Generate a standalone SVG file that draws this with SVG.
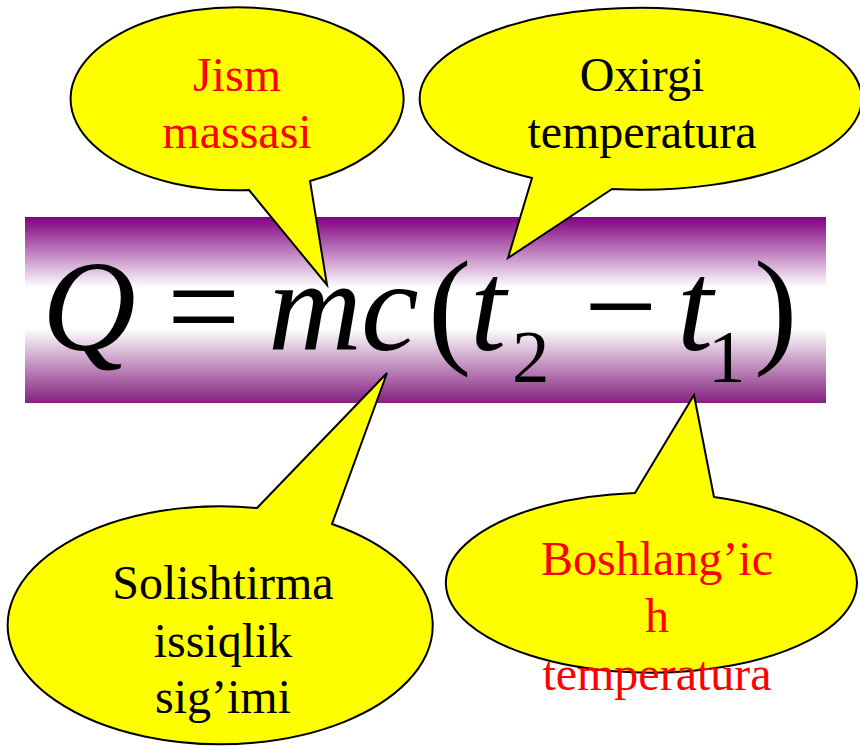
<svg xmlns="http://www.w3.org/2000/svg" width="860" height="746" viewBox="0 0 860 746">
<defs>
<linearGradient id="barGrad" x1="0" y1="0" x2="0" y2="1">
<stop offset="0" stop-color="#800080"/>
<stop offset="0.38" stop-color="#ffffff"/>
<stop offset="0.6" stop-color="#ffffff"/>
<stop offset="1" stop-color="#83207f"/>
</linearGradient>
</defs>
<style>
.bubble{fill:#ffff00;stroke:#000;stroke-width:2;stroke-linejoin:miter}
.lbl{font-family:"Liberation Serif","Times New Roman",serif;font-size:48px;text-anchor:middle}
.red{fill:#ff0000}
.blk{fill:#000}
.mi{font-family:"Liberation Serif","Times New Roman",serif;font-style:italic;font-size:130px;fill:#000}
.mu{font-family:"Liberation Serif","Times New Roman",serif;font-size:130px;fill:#000}
.sub{font-family:"Liberation Serif","Times New Roman",serif;font-size:75px;fill:#000}
</style>
<rect width="860" height="746" fill="#ffffff"/>
<g id="formula">
<rect x="25" y="217" width="801" height="186" fill="url(#barGrad)"/>
<text class="mi" x="42" y="350">Q</text>
<text class="mu" x="167" y="350">=</text>
<text class="mi" x="268" y="350">m</text>
<text class="mi" x="361" y="350">c</text>
<text class="mu" x="428" y="350">(</text>
<text class="mi" x="470" y="350">t</text>
<text class="sub" x="512" y="382">2</text>
<text class="mu" x="584" y="350">−</text>
<text class="mi" x="677" y="350">t</text>
<text class="sub" x="708" y="382">1</text>
<text class="mu" x="754" y="350">)</text>
</g>
<g id="connectors"></g>
<g id="callout-jism">
<path class="bubble" d="M 249 190 L 327 285 L 310 181 A 166.5 91.5 0 1 0 249 190 Z"/>
<text class="lbl red" x="237" y="91">Jism</text>
<text class="lbl red" x="237" y="148">massasi</text>
</g>
<g id="callout-oxirgi">
<path class="bubble" d="M 612 189 L 508 258 L 532 178 A 221 91 0 1 1 612 189 Z"/>
<text class="lbl blk" x="642" y="91">Oxirgi</text>
<text class="lbl blk" x="642" y="148">temperatura</text>
</g>
<g id="callout-solishtirma">
<path class="bubble" d="M 257 508 L 387 373 L 332 524 A 212.5 119 0 1 1 257 508 Z"/>
<text class="lbl blk" x="223" y="599">Solishtirma</text>
<text class="lbl blk" x="223" y="657">issiqlik</text>
<text class="lbl blk" x="223" y="713">sig’imi</text>
</g>
<g id="callout-boshlangich">
<path class="bubble" d="M 635 493 L 694 395 L 714 497 A 205.5 90 0 1 1 635 493 Z"/>
<text class="lbl red" x="657" y="575">Boshlang’ic</text>
<text class="lbl red" x="657" y="632">h</text>
<text class="lbl red" x="657" y="690">temperatura</text>
</g>
</svg>
